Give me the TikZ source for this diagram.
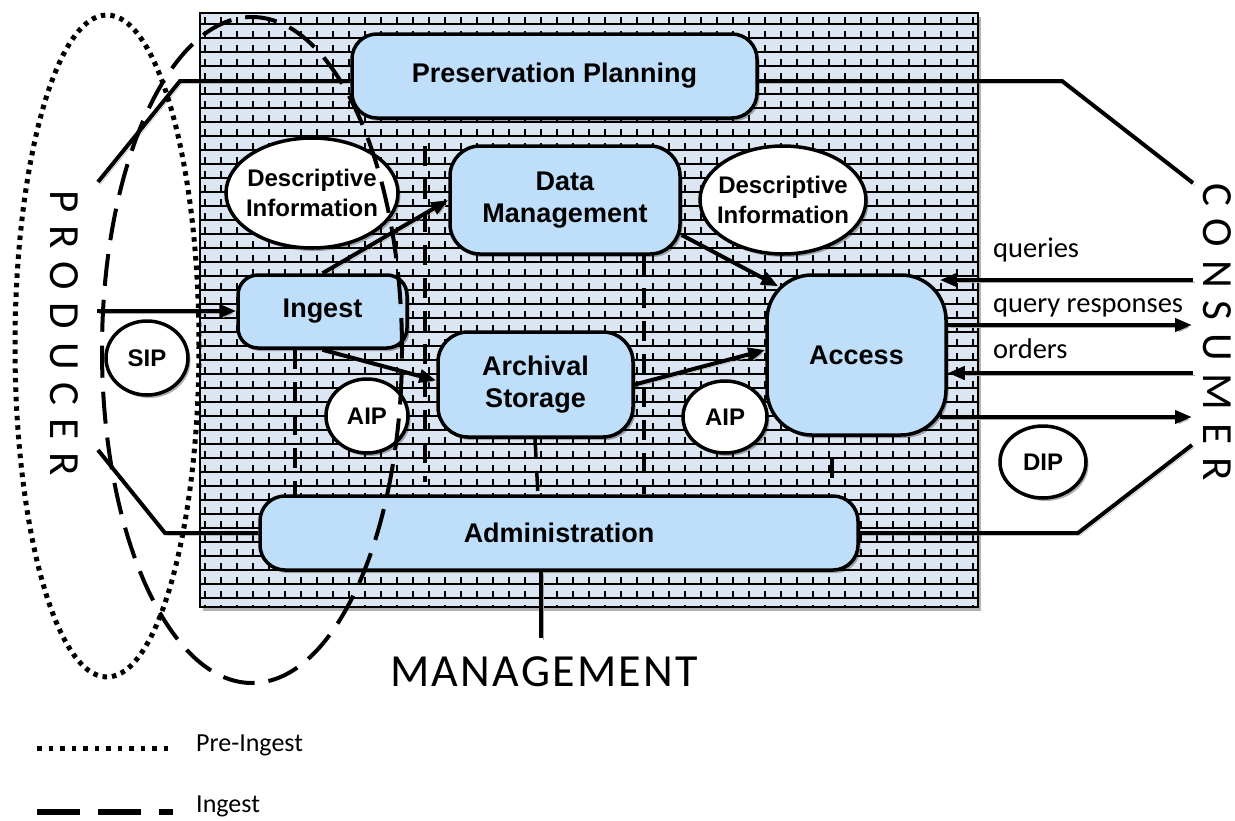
\documentclass[tikz,border=0pt]{standalone}
\usepackage{fontspec}
\setmainfont{Liberation Sans}
\newfontfamily\calfont{Carlito}
\usetikzlibrary{arrows.meta,shadows,shapes.geometric}
\definecolor{bgblue}{RGB}{220,230,242}
\definecolor{boxblue}{RGB}{190,222,250}
\pgfdeclarelayer{back}
\pgfdeclarelayer{front}
\pgfsetlayers{back,main,front}
\begin{document}
\begin{tikzpicture}[x=1pt,y=-1pt,
  shd/.style={drop shadow={shadow xshift=2.5pt,shadow yshift=-3pt,fill=black,opacity=0.3}},
  lshd/.style={preaction={draw=black!35,transform canvas={xshift=2pt,yshift=-2.5pt}}},
  proc/.style={draw=black,line width=3.5pt,fill=boxblue,rounded corners=#1,align=center,inner sep=0pt,
     font=\bfseries\fontsize{27}{32}\selectfont,shd},
  proc/.default=25pt,
  ell/.style={shape=ellipse,draw=black,line width=3.5pt,fill=white,align=center,inner sep=0pt,
     font=\bfseries\fontsize{24}{30}\selectfont,shd},
  conn/.style={line width=4pt,lshd},
  arr/.style={line width=4pt,lshd,-{Triangle[length=17pt,width=13pt]}},
  mgd/.style={line width=3.5pt,dash pattern=on 20pt off 13pt},
  preing/.style={line width=5pt,dash pattern=on 4.5pt off 5pt},
  ingd/.style={line width=4pt,dash pattern=on 32pt off 14pt},
  lbl/.style={font=\calfont\fontsize{28.5}{30}\selectfont,inner sep=0pt},
  leg/.style={font=\calfont\fontsize{26}{28}\selectfont,inner sep=0pt}]
\useasboundingbox (0,0) rectangle (1235,820);

% ---------- main blocks ----------
\node[proc=25pt,minimum width=405pt,minimum height=84pt] (pp) at (554.5,76) {Preservation Planning};
\node[ell,minimum width=172pt,minimum height=110pt,inner xsep=-14pt] (di1) at (312,193) {Descriptive\\Information};
\node[proc=30pt,minimum width=230pt,minimum height=108pt] (dm) at (565,200) {Data\\Management};
\node[ell,minimum width=166pt,minimum height=108pt,inner xsep=-14pt] (di2) at (783,200) {Descriptive\\Information};
\node[proc=20pt,minimum width=169pt,minimum height=73pt] (ing) at (322.5,311.5) {Ingest};
\node[proc=30pt,minimum width=195pt,minimum height=105pt] (as) at (535.5,384.5) {Archival\\Storage};
\node[proc=45pt,minimum width=179pt,minimum height=160pt] (acc) at (856.5,355) {Access};
\node[proc=25pt,minimum width=598pt,minimum height=74pt] (adm) at (559,533) {Administration};
\node[ell,minimum width=82pt,minimum height=74pt] (sip) at (147,358) {SIP};
\node[ell,minimum width=82pt,minimum height=74pt] (aip1) at (367,416) {AIP};
\node[ell,minimum width=84pt,minimum height=72pt] (aip2) at (725,417) {AIP};
\node[ell,minimum width=86pt,minimum height=72pt] (dip) at (1043,462) {DIP};

% ---------- outside labels ----------
\node[rotate=-90,inner sep=0pt,font=\calfont\fontsize{43}{43}\selectfont\addfontfeature{LetterSpace=30}] (prod) at (64,333) {PRODUCER};
\node[rotate=-90,inner sep=0pt,font=\calfont\fontsize{43}{43}\selectfont\addfontfeature{LetterSpace=30}] (cons) at (1217,332) {CONSUMER};
\node[inner sep=0pt,font=\calfont\fontsize{46}{46}\selectfont\addfontfeature{LetterSpace=5}] (mgt) at (544,672) {MANAGEMENT};
\node[lbl,anchor=base west] (tq) at (993,257) {queries};
\node[lbl,anchor=base west] (tr) at (993,312) {query responses};
\node[lbl,anchor=base west] (to) at (993,358) {orders};

% ---------- coordinates ----------
\coordinate (pA) at (98,182);  \coordinate (pAk) at (180,81);
\coordinate (pB) at (97,311);
\coordinate (pC) at (98,450);  \coordinate (pCk) at (165,533);
\coordinate (cA) at (1193,183); \coordinate (cAk) at (1062,81);
\coordinate (cB) at (1192,445); \coordinate (cBk) at (1078,533);
\coordinate (q1) at (1193,280); \coordinate (q2) at (1192,325);
\coordinate (q3) at (1193,373); \coordinate (q4) at (1192,417);
\coordinate (v1a) at (425,146); \coordinate (v1b) at (425,482);
\coordinate (v2a) at (295,349); \coordinate (v2b) at (295,496);
\coordinate (v3a) at (644,255); \coordinate (v3b) at (644,494);
\coordinate (v4a) at (535,438); \coordinate (v4b) at (538,496);
\coordinate (v5a) at (832,458); \coordinate (v5b) at (832,480);

\begin{pgfonlayer}{back}
  % patterned background
  \fill[black!30] (203,17) rectangle (981,611);
  \fill[bgblue] (200,13) rectangle (978,607);
  \begin{scope}
    \clip (200,13) rectangle (978,607);
    \foreach \r in {0,...,42}{
      \pgfmathsetmacro\yy{13+14*\r+11}
      \draw[line width=2pt] (200,\yy) -- (978,\yy)
        \foreach \c in {0,...,48}{ (200+16*\c+5,\yy) -- ++(0,-7) };
    }
  \end{scope}
  \draw[line width=1.5pt] (200,13) rectangle (978,607);

  % connectors
  \draw[conn] ([yshift=-5pt]pp.west) -- (pAk) -- (pA);
  \draw[arr] (pB) -- (pB -| ing.west);
  \draw[conn] (pC) -- (pCk) -- (adm.west);
  \draw[conn] ([yshift=-5pt]pp.east) -- (cAk) -- (cA);
  \draw[conn] (adm.east) -- (cBk) -- (cB);
  \draw[arr] (q1) -- ([xshift=-8pt]q1 -| acc.east);
  \draw[arr] (q2 -| acc.east) -- (q2);
  \draw[arr] (q3) -- (q3 -| acc.east);
  \draw[arr] ([xshift=-8pt]q4 -| acc.east) -- (q4);
  \draw[arr] (ing.north) -- (dm.west);
  \draw[arr] ([yshift=-35pt]dm.east) -- ([shift={(13pt,-13pt)}]acc.north west);
  \draw[arr] (ing.south) -- ([yshift=4pt]as.west);
  \draw[arr] (as.east) -- ([yshift=5pt]acc.west);
  \draw[mgd] (v1a) -- (v1b);
  \draw[mgd] (v2a) -- (v2b);
  \draw[mgd] (v3a) -- (v3b);
  \draw[mgd] (v4a) -- (v4b);
  \draw[mgd] (v5a) -- (v5b);
  \draw[conn,shorten >=19pt] ([xshift=-18pt]adm.south) -- ([xshift=-3pt]mgt.north);
\end{pgfonlayer}

\begin{pgfonlayer}{front}
  \draw[preing] (107,346) ellipse [x radius=92pt, y radius=331pt];
  \draw[ingd] (252,350) ellipse [x radius=150pt, y radius=333pt];
\end{pgfonlayer}

% ---------- legend ----------
\coordinate (l1a) at (37,748); \coordinate (l1b) at (173,748);
\coordinate (l2a) at (37,812); \coordinate (l2b) at (173,812);
\draw[line width=5pt,dash pattern=on 4.5pt off 7pt] (l1a) -- (l1b);
\draw[line width=6pt,dash pattern=on 43pt off 18pt] (l2a) -- (l2b);
\node[leg,anchor=west] (l1t) at (196,745) {Pre-Ingest};
\node[leg,anchor=base west] (l2t) at (196,812) {Ingest};
\end{tikzpicture}
\end{document}
